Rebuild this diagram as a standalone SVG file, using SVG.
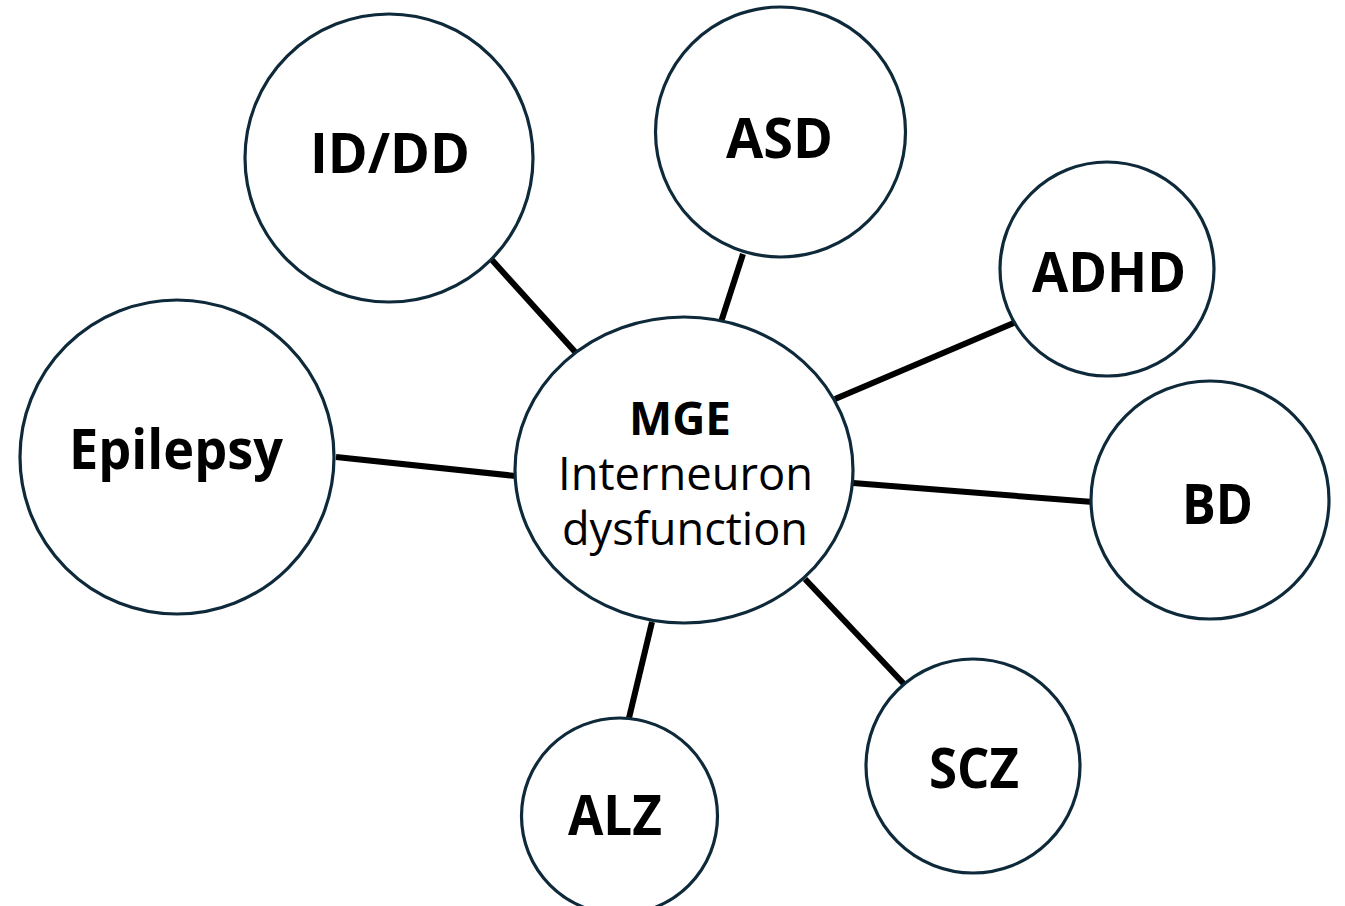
<svg xmlns="http://www.w3.org/2000/svg" width="1345" height="906" viewBox="0 0 1345 906">
  <style>
    .bubble { fill: #ffffff; stroke: #0e2a3a; stroke-width: 3.2; }
    .link { stroke: #000000; stroke-width: 6; stroke-linecap: butt; }
    .label { font-family: "Open Sans", "Liberation Sans", sans-serif; font-weight: 700; font-size: 55px; fill: #000000; text-anchor: middle; }
    .hub-title { font-family: "Open Sans", "Liberation Sans", sans-serif; font-weight: 700; font-size: 46px; fill: #000000; text-anchor: middle; }
    .hub-text { font-family: "Open Sans", "Liberation Sans", sans-serif; font-weight: 400; font-size: 46px; fill: #000000; text-anchor: middle; }
  </style>
  <rect width="1345" height="906" fill="#ffffff"/>

  <!-- spokes from the hub to each condition -->
  <g id="connectors">
    <line class="link" x1="492" y1="260" x2="577" y2="354"/>
    <line class="link" x1="743" y1="254" x2="721" y2="322"/>
    <line class="link" x1="1016" y1="322" x2="835" y2="399"/>
    <line class="link" x1="336" y1="457" x2="516" y2="476"/>
    <line class="link" x1="853" y1="483" x2="1093" y2="502"/>
    <line class="link" x1="805" y1="579" x2="904" y2="684"/>
    <line class="link" x1="652" y1="622" x2="629" y2="718"/>
  </g>

  <g id="hub">
    <ellipse class="bubble" cx="684" cy="470" rx="169" ry="153"/>
    <text class="hub-title" x="680" y="435" textLength="102" lengthAdjust="spacingAndGlyphs">MGE</text>
    <text class="hub-text" x="685.5" y="490" textLength="255" lengthAdjust="spacingAndGlyphs">Interneuron</text>
    <text class="hub-text" x="685" y="545" textLength="246" lengthAdjust="spacingAndGlyphs">dysfunction</text>
  </g>

  <g id="id-dd">
    <circle class="bubble" cx="389" cy="158" r="144"/>
    <text class="label" x="390" y="173" textLength="160" lengthAdjust="spacingAndGlyphs">ID/DD</text>
  </g>

  <g id="asd">
    <circle class="bubble" cx="780.5" cy="132" r="125"/>
    <text class="label" x="779.5" y="158" textLength="107" lengthAdjust="spacingAndGlyphs">ASD</text>
  </g>

  <g id="adhd">
    <circle class="bubble" cx="1107" cy="269" r="107"/>
    <text class="label" x="1109" y="292" textLength="154" lengthAdjust="spacingAndGlyphs">ADHD</text>
  </g>

  <g id="epilepsy">
    <circle class="bubble" cx="177" cy="457" r="157"/>
    <text class="label" x="176" y="469" textLength="214" lengthAdjust="spacingAndGlyphs">Epilepsy</text>
  </g>

  <g id="bd">
    <circle class="bubble" cx="1210" cy="500" r="119"/>
    <text class="label" x="1217.5" y="524" textLength="71" lengthAdjust="spacingAndGlyphs">BD</text>
  </g>

  <g id="scz">
    <circle class="bubble" cx="973" cy="766" r="107"/>
    <text class="label" x="974" y="788" textLength="90" lengthAdjust="spacingAndGlyphs">SCZ</text>
  </g>

  <g id="alz">
    <circle class="bubble" cx="619.5" cy="816" r="98"/>
    <text class="label" x="615" y="835" textLength="94" lengthAdjust="spacingAndGlyphs">ALZ</text>
  </g>
</svg>
